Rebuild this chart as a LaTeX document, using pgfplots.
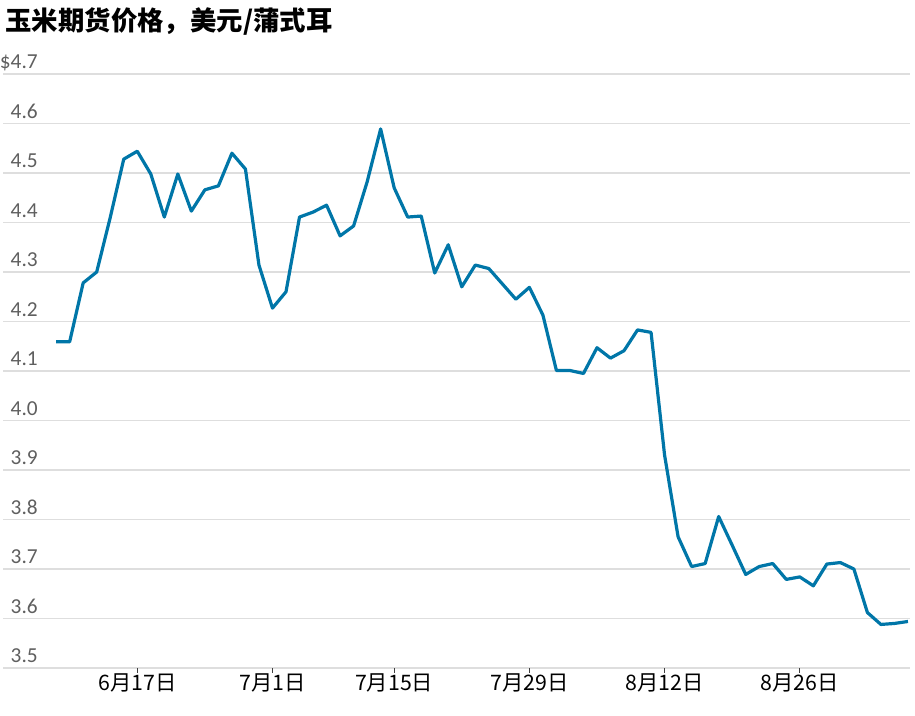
\documentclass[border=0pt]{standalone}
\usepackage{pgfplots}
\pgfplotsset{compat=1.18}
\usepackage{fontspec}
\setmainfont{Carlito}
\newfontfamily\cjk{Noto Sans CJK SC}
\definecolor{linec}{RGB}{0,118,168}
\definecolor{gridc}{RGB}{222,222,222}
\definecolor{labc}{RGB}{95,95,95}
\begin{document}
\begin{tikzpicture}
\useasboundingbox (0,0) rectangle (686.25pt,536.25pt);
\node[anchor=base west, inner sep=0pt, font=\cjk\bfseries\fontsize{19.8pt}{22pt}\selectfont] at (4pt,513.5pt) {玉米期货价格，美元/蒲式耳};
\begin{axis}[
  at={(2.25pt,35.25pt)}, anchor=south west,
  scale only axis, width=680.25pt, height=445.5pt,
  xmin=-3.93, xmax=63.15, ymin=3.5, ymax=4.7,
  axis line style={draw=none},
  ytick={3.5,3.6,3.7,3.8,3.9,4.0,4.1,4.2,4.3,4.4,4.5,4.6,4.7},
  yticklabels={3.5,3.6,3.7,3.8,3.9,4.0,4.1,4.2,4.3,4.4,4.5,4.6,\$4.7},
  ymajorgrids, grid style={gridc, line width=1.3pt},
  ytick style={draw=none},
  yticklabel style={anchor=base east, inner sep=0pt, xshift=30pt, yshift=4pt, text=labc, font=\fontsize{16pt}{18pt}\selectfont},
  xtick={6,16,25,35,45,55},
  xticklabels={6月17日,7月1日,7月15日,7月29日,8月12日,8月26日},
  xtick pos=bottom, tick align=outside,
  major tick length=3.75pt,
  xtick style={black!75, line width=1pt},
  xticklabel style={anchor=north, inner sep=0pt, text=black, font=\cjk\fontsize{16pt}{18pt}\selectfont},
  clip=false,
]
\addplot[linec, line width=2.4pt, line join=round] coordinates {
(0,4.159) (1,4.159) (2,4.278) (3,4.300) (4,4.41) (5,4.528) (6,4.544) (7,4.498)
(8,4.411) (9,4.498) (10,4.423) (11,4.466) (12,4.474) (13,4.540) (14,4.508) (15,4.314)
(16,4.227) (17,4.260) (18,4.411) (19,4.421) (20,4.435) (21,4.373) (22,4.393) (23,4.482)
(24,4.589) (25,4.470) (26,4.411) (27,4.413) (28,4.298) (29,4.355) (30,4.270) (31,4.314)
(32,4.307) (33,4.276) (34,4.245) (35,4.269) (36,4.213) (37,4.101) (38,4.101) (39,4.095)
(40,4.147) (41,4.126) (42,4.141) (43,4.183) (44,4.178) (45,3.930) (46,3.765) (47,3.705)
(48,3.711) (49,3.806) (50,3.748) (51,3.689) (52,3.705) (53,3.711) (54,3.679) (55,3.684)
(56,3.666) (57,3.710) (58,3.713) (59,3.700) (60,3.612) (61,3.588) (62,3.590) (63,3.594)
};
\end{axis}
\end{tikzpicture}
\end{document}
